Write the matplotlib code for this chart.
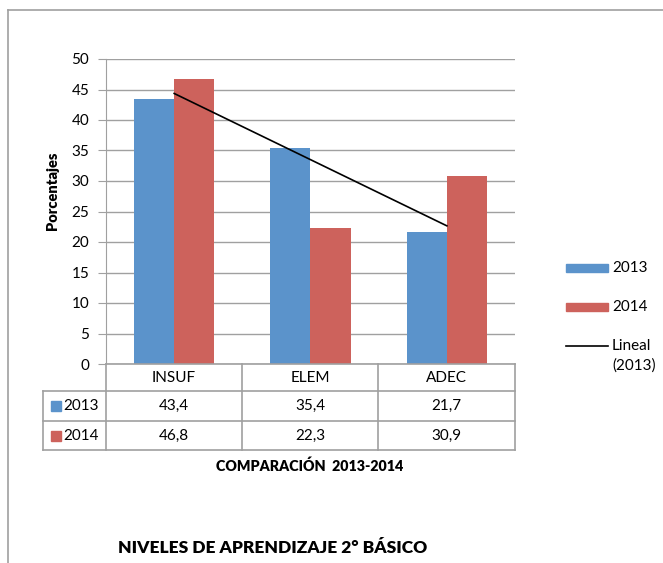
import numpy as np
import matplotlib.pyplot as plt
from matplotlib.lines import Line2D
from matplotlib.patches import Rectangle
import matplotlib.transforms as mtransforms

plt.rcParams['font.family'] = ['Lato', 'DejaVu Sans']

# DATA
categorias = ["INSUF", "ELEM", "ADEC"]
anios = ["2013", "2014"]
v2013 = [43.4, 35.4, 21.7]
v2014 = [46.8, 22.3, 30.9]
yticks = [0, 5, 10, 15, 20, 25, 30, 35, 40, 45, 50]

azul = "#5b93cb"
rojo = "#cd625c"
gris = "#a0a0a0"

W, H = 663, 563
fig = plt.figure(figsize=(W / 100, H / 100), dpi=100)


def fx(x):
    return x / W


def fy(y):
    return 1 - y / H


# plot area in pixels
x0, x1 = 106, 515
y_top, y_bot = 59, 364
ax = fig.add_axes([fx(x0), fy(y_bot), fx(x1) - fx(x0), fy(y_top) - fy(y_bot)])

x = np.arange(len(categorias))
bw = 0.295
ax.bar(x - bw / 2, v2013, bw, color=azul, zorder=3)
ax.bar(x + bw / 2, v2014, bw, color=rojo, zorder=3)

# linear trendline for 2013
m, b = np.polyfit(x, v2013, 1)
ax.plot(x, m * x + b, color="black", lw=1.2, zorder=4)

ax.set_xlim(-0.5, 2.5)
ax.set_ylim(0, 50)
ax.set_yticks(yticks)
ax.set_xticks([])
ax.yaxis.grid(True, color=gris, lw=1, zorder=0)
for s in ["top", "right", "bottom"]:
    ax.spines[s].set_visible(False)
ax.spines["left"].set_color(gris)
ax.tick_params(axis="y", length=6, color=gris, labelsize=11, pad=6)
fig.text(fx(52), fy(191), "Porcentajes", rotation=90, ha="center", va="center",
         fontsize=10.5, fontweight="heavy")

# data table below the axis
tr = mtransforms.blended_transform_factory(ax.transData, fig.transFigure)
rows_y = [364, 391, 421, 450]
tl = x1
lines = [
    ((x0, tl), (rows_y[0], rows_y[0])),
    ((43, tl), (rows_y[1], rows_y[1])),
    ((43, tl), (rows_y[2], rows_y[2])),
    ((43, tl), (rows_y[3], rows_y[3])),
    ((43, 43), (rows_y[1], rows_y[3])),
]
for xs, ys in lines:
    fig.add_artist(Line2D([fx(v) for v in xs], [fy(v) for v in ys], color=gris, lw=1.2))
for xv in [x0, 242, 378, 515]:
    fig.add_artist(Line2D([fx(xv), fx(xv)], [fy(rows_y[0]), fy(rows_y[3])], color=gris, lw=1.2))

for i, c in enumerate(categorias):
    ax.text(x[i], fy((rows_y[0] + rows_y[1]) / 2), c, transform=tr,
            ha="center", va="center", fontsize=11)
    ax.text(x[i], fy((rows_y[1] + rows_y[2]) / 2), f"{v2013[i]:.1f}".replace(".", ","),
            transform=tr, ha="center", va="center", fontsize=11)
    ax.text(x[i], fy((rows_y[2] + rows_y[3]) / 2), f"{v2014[i]:.1f}".replace(".", ","),
            transform=tr, ha="center", va="center", fontsize=11)

for j, (lab, col) in enumerate(zip(anios, [azul, rojo])):
    yc = (rows_y[j + 1] + rows_y[j + 2]) / 2
    fig.add_artist(Rectangle((fx(51), fy(yc + 5)), fx(10), fy(0) - fy(10),
                             color=col, transform=fig.transFigure))
    fig.text(fx(63), fy(yc), lab, ha="left", va="center", fontsize=11)

fig.text(fx(310), fy(466), "COMPARACIÓN  2013-2014", ha="center", va="center",
         fontsize=10.3, fontweight="heavy")

# legend
for lab, col, yc in [("2013", azul, 268), ("2014", rojo, 307)]:
    fig.add_artist(Rectangle((fx(566), fy(yc + 4)), fx(42), fy(0) - fy(8),
                             color=col, transform=fig.transFigure))
    fig.text(fx(612), fy(yc), lab, ha="left", va="center", fontsize=11)
fig.add_artist(Line2D([fx(566), fx(608)], [fy(346), fy(346)], color="black", lw=1.2))
fig.text(fx(612), fy(346), "Lineal", ha="left", va="center", fontsize=11)
fig.text(fx(612), fy(366), "(2013)", ha="left", va="center", fontsize=11)

# outer frame
fig.add_artist(Line2D([fx(8), fx(663)], [fy(10), fy(10)], color=gris, lw=1.2))
fig.add_artist(Line2D([fx(8), fx(8)], [fy(10), fy(563)], color=gris, lw=1.2))

fig.text(fx(118), fy(548), "NIVELES DE APRENDIZAJE 2° BÁSICO", ha="left", va="center",
         fontsize=12.5, fontweight="heavy")

fig.savefig("out.png", dpi=100)
